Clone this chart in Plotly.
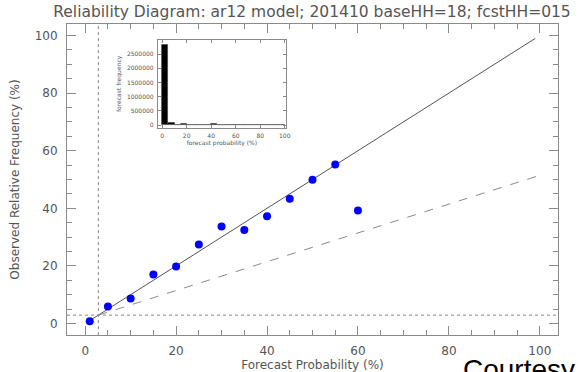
import plotly.graph_objects as go

# ---- data ----
fcst_prob = [1, 5, 10, 15, 20, 25, 30, 35, 40, 45, 50, 55, 60]
obs_freq = [0.8, 5.9, 8.7, 17.0, 19.8, 27.4, 33.7, 32.5, 37.2, 43.3, 49.9, 55.2, 39.2]
clim = 2.9  # sample climatology (%)
diag_x = [1, 99]

hist_centers = [2.5, 7.5, 12.5, 17.5, 22.5, 27.5, 32.5, 37.5, 42.5, 47.5,
                52.5, 57.5, 62.5, 67.5, 72.5, 77.5, 82.5, 87.5, 92.5, 97.5]
hist_counts = [2820000, 70000, 20000, 30000, 15000, 12000, 10000, 10000, 30000, 8000,
               15000, 12000, 5000, 3000, 2000, 1000, 500, 300, 200, 100]

inset_yticks = [0, 500000, 1000000, 1500000, 2000000, 2500000]

title_text = "Reliability Diagram: ar12 model; 201410 baseHH=18; fcstHH=015"

FONT = "DejaVu Sans"
TXT = "#555555"
AX = "#8a8a8a"

fig = go.Figure()

# perfect reliability line
fig.add_trace(go.Scatter(x=diag_x, y=diag_x, mode="lines",
                         line=dict(color="#555555", width=1), showlegend=False))
# no-skill line
ns_x = [clim, 100]
ns_y = [(v + clim) / 2 for v in ns_x]
fig.add_trace(go.Scatter(x=ns_x, y=ns_y, mode="lines",
                         line=dict(color="#8a8a8a", width=1, dash="dash"), showlegend=False))
# climatology lines
fig.add_trace(go.Scatter(x=[clim, clim], y=[-4, 104], mode="lines",
                         line=dict(color="#8a8a8a", width=1, dash="3px,3px"), showlegend=False))
fig.add_trace(go.Scatter(x=[-4, 104], y=[clim, clim], mode="lines",
                         line=dict(color="#8a8a8a", width=1, dash="3px,3px"), showlegend=False))
# points
fig.add_trace(go.Scatter(x=fcst_prob, y=obs_freq, mode="markers",
                         marker=dict(color="#0000ff", size=8, line=dict(width=0)),
                         showlegend=False))

# inset histogram
fig.add_trace(go.Bar(x=hist_centers, y=hist_counts, width=5, xaxis="x2", yaxis="y2",
                     marker=dict(color="black", line=dict(color="#333", width=0.5)),
                     showlegend=False))

axis_common = dict(showgrid=False, zeroline=False, showline=True, linecolor=AX, linewidth=1,
                   mirror="allticks", ticks="inside", ticklen=9, tickcolor=AX, tickwidth=1,
                   tickmode="linear", tick0=0, dtick=20, automargin=False,
                   minor=dict(ticks="inside", dtick=5, tick0=0, ticklen=5, tickcolor=AX),
                   tickfont=dict(family=FONT, size=12, color=TXT))

fig.update_layout(
    width=581, height=372,
    margin=dict(l=67, r=23, t=24, b=37),
    paper_bgcolor="white", plot_bgcolor="white",
    title=dict(text=title_text, x=0.537, xanchor="center", y=0.968, yanchor="middle",
               font=dict(family=FONT, size=15.5, color=TXT)),
    xaxis=dict(range=[-4, 104], ticklabelstandoff=5,
               title=dict(text="Forecast Probability (%)", standoff=4,
                          font=dict(family=FONT, size=12, color=TXT)),
               **axis_common),
    yaxis=dict(range=[-4, 104], ticklabelstandoff=6,
               title=dict(text="Observed Relative Frequency (%)", standoff=12,
                          font=dict(family=FONT, size=12, color=TXT)),
               **axis_common),
    xaxis2=dict(domain=[0.185, 0.446], anchor="y2", range=[-3.5, 101],
                tickmode="linear", tick0=0, dtick=20, automargin=False,
                showgrid=False, zeroline=False, showline=True,
                linecolor=AX, linewidth=1, mirror="allticks", ticks="inside", ticklen=3,
                tickcolor=AX, tickfont=dict(family=FONT, size=6, color=TXT),
                ticklabelstandoff=2,
                title=dict(text="forecast probability (%)", standoff=2,
                           font=dict(family=FONT, size=6, color=TXT))),
    yaxis2=dict(domain=[0.666, 0.949], anchor="x2", range=[-100000, 3000000],
                tickvals=inset_yticks, tickformat="d", showgrid=False, zeroline=False,
                automargin=False,
                showline=True, linecolor=AX, linewidth=1, mirror="allticks", ticks="inside",
                ticklen=3, tickcolor=AX, tickfont=dict(family=FONT, size=6, color=TXT),
                ticklabelstandoff=2,
                title=dict(text="forecast frequency", standoff=4,
                           font=dict(family=FONT, size=6, color=TXT))),
    bargap=0,
    annotations=[dict(text="Courtesy", xref="paper", yref="paper", x=0.803, y=-0.056,
                      xanchor="left", yanchor="top", showarrow=False,
                      font=dict(family="Liberation Sans", size=28, color="black"))],
)

fig.write_html("out.html")
